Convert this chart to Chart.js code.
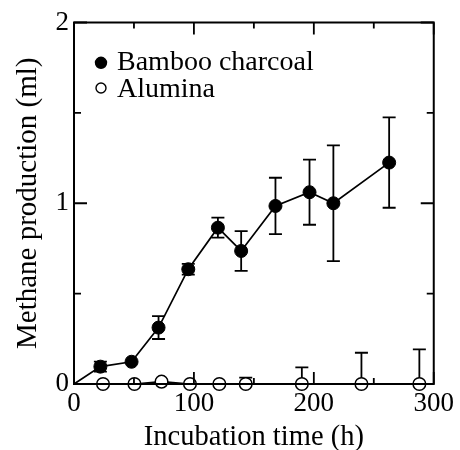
<!DOCTYPE html>
<html><head><meta charset="utf-8">
<script src="https://cdn.jsdelivr.net/npm/chart.js@4"></script>
<style>html,body{margin:0;padding:0;background:#fff}#wrap{position:relative;width:460px;height:450px}</style>
</head><body><div id="wrap"><canvas id="c" width="460" height="450"></canvas></div>
<script>
// ---- data ----
const seriesNames = ['Bamboo charcoal', 'Alumina'];
const bambooTime = [0, 22, 48, 70.5, 95.3, 120, 139.4, 168, 196.4, 216.3, 262.8];
const bambooMean = [0, 0.096, 0.123, 0.312, 0.635, 0.865, 0.736, 0.985, 1.061, 1.0, 1.225];
const bambooErr  = [0, 0.028, 0, 0.063, 0.03, 0.055, 0.11, 0.156, 0.18, 0.32, 0.25];
const aluminaTime  = [0, 24.2, 50.4, 73, 96.7, 121.2, 143.2, 190, 239.7, 288];
const aluminaMean  = [0, 0, 0, 0.013, 0, 0, 0, 0, 0, 0];
const aluminaErrUp = [0, 0, 0, 0, 0, 0, 0.035, 0.092, 0.173, 0.192];
const xTickLabels = [0, 100, 200, 300];
const yTickLabels = [0, 1, 2];
const xTickMarks = [0, 50, 100, 150, 200, 250, 300];
const yTickMarks = [0, 0.5, 1, 1.5, 2];
const xTitle = 'Incubation time (h)';
const yTitle = 'Methane production (ml)';

const SERIF = "'Liberation Serif', 'Times New Roman', serif";

const errorBarPlugin = {
  id: 'errorBars',
  beforeDatasetsDraw(chart) {
    const {ctx, scales: {x, y}} = chart;
    ctx.save();
    ctx.strokeStyle = '#000';
    ctx.lineWidth = 1.8;
    chart.data.datasets.forEach(ds => {
      ds.data.forEach((p, i) => {
        const up = ds.errUp ? ds.errUp[i] : 0;
        const dn = ds.errDown ? ds.errDown[i] : 0;
        if (!up && !dn) return;
        const px = x.getPixelForValue(p.x);
        const top = y.getPixelForValue(p.y + up);
        const bot = y.getPixelForValue(p.y - dn);
        ctx.beginPath();
        ctx.moveTo(px, top); ctx.lineTo(px, bot);
        if (up) { ctx.moveTo(px - 6.5, top); ctx.lineTo(px + 6.5, top); }
        if (dn) { ctx.moveTo(px - 6.5, bot); ctx.lineTo(px + 6.5, bot); }
        ctx.stroke();
      });
    });
    ctx.restore();
  }
};

const framePlugin = {
  id: 'frame',
  afterDatasetsDraw(chart) {
    const {ctx, chartArea: a, scales: {x, y}} = chart;
    ctx.save();
    ctx.strokeStyle = '#000';
    ctx.lineWidth = 1.8;
    ctx.beginPath();
    xTickMarks.forEach(v => {
      const px = x.getPixelForValue(v);
      const len = xTickLabels.includes(v) ? 12 : 6;
      ctx.moveTo(px, a.bottom); ctx.lineTo(px, a.bottom - len);
      ctx.moveTo(px, a.top); ctx.lineTo(px, a.top + len);
    });
    yTickMarks.forEach(v => {
      const py = y.getPixelForValue(v);
      const len = yTickLabels.includes(v) ? 13 : 7;
      ctx.moveTo(a.left, py); ctx.lineTo(a.left + len, py);
      ctx.moveTo(a.right, py); ctx.lineTo(a.right - len, py);
    });
    ctx.stroke();
    ctx.lineWidth = 2;
    ctx.strokeRect(a.left, a.top, a.right - a.left, a.bottom - a.top);
    ctx.restore();
  }
};

const legendPlugin = {
  id: 'insideLegend',
  afterDraw(chart) {
    const {ctx} = chart;
    const rows = [{cy: 62.8, r: 5.5, ty: 70}, {cy: 88, r: 5, ty: 96.7}];
    ctx.save();
    chart.data.datasets.forEach((ds, i) => {
      const row = rows[i];
      ctx.beginPath();
      ctx.arc(101, row.cy, row.r, 0, Math.PI * 2);
      ctx.fillStyle = ds.pointBackgroundColor;
      ctx.fill();
      ctx.lineWidth = 1.4;
      ctx.strokeStyle = ds.pointBorderColor;
      ctx.stroke();
      ctx.fillStyle = '#000';
      ctx.font = "28px " + SERIF;
      ctx.textBaseline = 'alphabetic';
      ctx.textAlign = 'left';
      ctx.fillText(ds.label, 117, row.ty);
    });
    ctx.restore();
  }
};

new Chart(document.getElementById('c'), {
  type: 'line',
  data: {
    datasets: [
      {
        label: seriesNames[0],
        data: bambooTime.map((t, i) => ({x: t, y: bambooMean[i]})),
        errUp: bambooErr, errDown: bambooErr,
        borderColor: '#000', borderWidth: 1.7, backgroundColor: '#000',
        pointBackgroundColor: '#000', pointBorderColor: '#000', pointBorderWidth: 1,
        pointRadius: bambooTime.map(t => t === 0 ? 0 : 6.5),
        tension: 0, fill: false, clip: false
      },
      {
        label: seriesNames[1],
        data: aluminaTime.map((t, i) => ({x: t, y: aluminaMean[i]})),
        errUp: aluminaErrUp,
        borderColor: '#000', borderWidth: 1.7, backgroundColor: '#fff',
        pointBackgroundColor: '#fff', pointBorderColor: '#000', pointBorderWidth: 1.5,
        pointRadius: aluminaTime.map(t => t === 0 ? 0 : 6.3),
        tension: 0, fill: false, clip: false
      }
    ]
  },
  options: {
    responsive: false, animation: false, devicePixelRatio: 1, events: [],
    layout: {padding: {left: 0, right: 23, top: 22.5, bottom: 0}},
    plugins: {legend: {display: false}, tooltip: {enabled: false}},
    scales: {
      x: {
        type: 'linear', min: 0, max: 300,
        afterBuildTicks: s => { s.ticks = xTickLabels.map(v => ({value: v})); },
        grid: {display: false, drawTicks: false}, border: {display: false},
        ticks: {font: {family: SERIF, size: 27, lineHeight: 1}, color: '#000', padding: 6, maxRotation: 0, autoSkip: false},
        title: {display: true, text: xTitle, color: '#000', padding: 0, font: {family: SERIF, size: 28.5, lineHeight: 0.88}},
        afterFit: s => { s.height = 66; }
      },
      y: {
        type: 'linear', min: 0, max: 2,
        afterBuildTicks: s => { s.ticks = yTickLabels.map(v => ({value: v})); },
        grid: {display: false, drawTicks: false}, border: {display: false},
        ticks: {font: {family: SERIF, size: 27, lineHeight: 1}, color: '#000', padding: 5, autoSkip: false},
        title: {display: true, text: yTitle, color: '#000', padding: {top: 13.5, bottom: 0}, font: {family: SERIF, size: 29, lineHeight: 1}},
        afterFit: s => { s.width = 74; }
      }
    }
  },
  plugins: [errorBarPlugin, framePlugin, legendPlugin]
});
</script>
</body></html>
